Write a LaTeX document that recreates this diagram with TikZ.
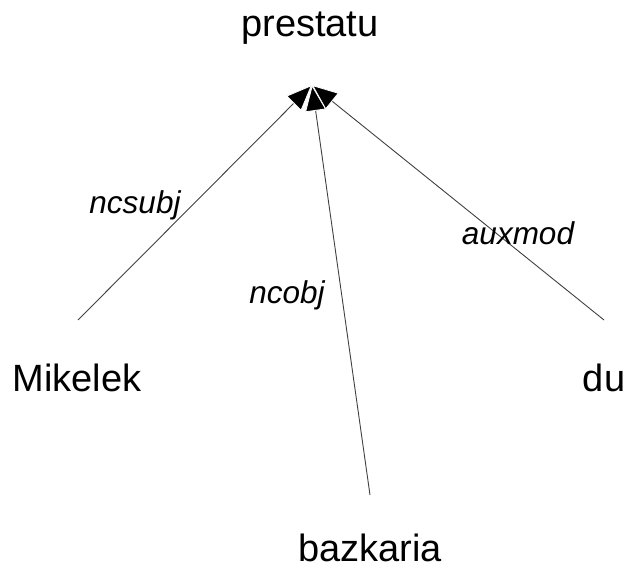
\documentclass[tikz,border=0pt]{standalone}
\usepackage{fontspec}
\setmainfont{Liberation Sans}
\usetikzlibrary{arrows.meta}
\begin{document}
\begin{tikzpicture}[x=1pt,y=-1pt,
  word/.style={font=\fontsize{38}{40}\selectfont, inner sep=0pt},
  rel/.style={font=\fontsize{31.5}{34}\selectfont\itshape, inner sep=0pt},
  dep/.style={draw=black!75, line width=0.9pt,
    -{Triangle[length=26pt,width=21pt,fill=black,color=white,line width=0.8pt]}}]
  \useasboundingbox (0,0) rectangle (628,569);
  % words
  \node[word] (head) at (310,28) {prestatu};
  \node[word] (mik) at (77,378) {Mikelek};
  \node[word] (du) at (604,378) {du};
  \node[word] (baz) at (370,548) {bazkaria};
  % arc anchors
  \coordinate (top) at (312,85);
  \coordinate (mikend) at (78,320);
  \coordinate (duend) at (604,320);
  \coordinate (bazend) at (370,495);
  % dependency arcs, each head outlined in white
  \draw[dep] (mikend) -- (top);
  \draw[dep] (duend) -- (top);
  \draw[dep] (bazend) -- (top);
  % relation labels
  \node[rel] (l1) at (135,205) {ncsubj};
  \node[rel] (l2) at (287,295) {ncobj};
  \node[rel] (l3) at (518,233) {auxmod};
\end{tikzpicture}
\end{document}
